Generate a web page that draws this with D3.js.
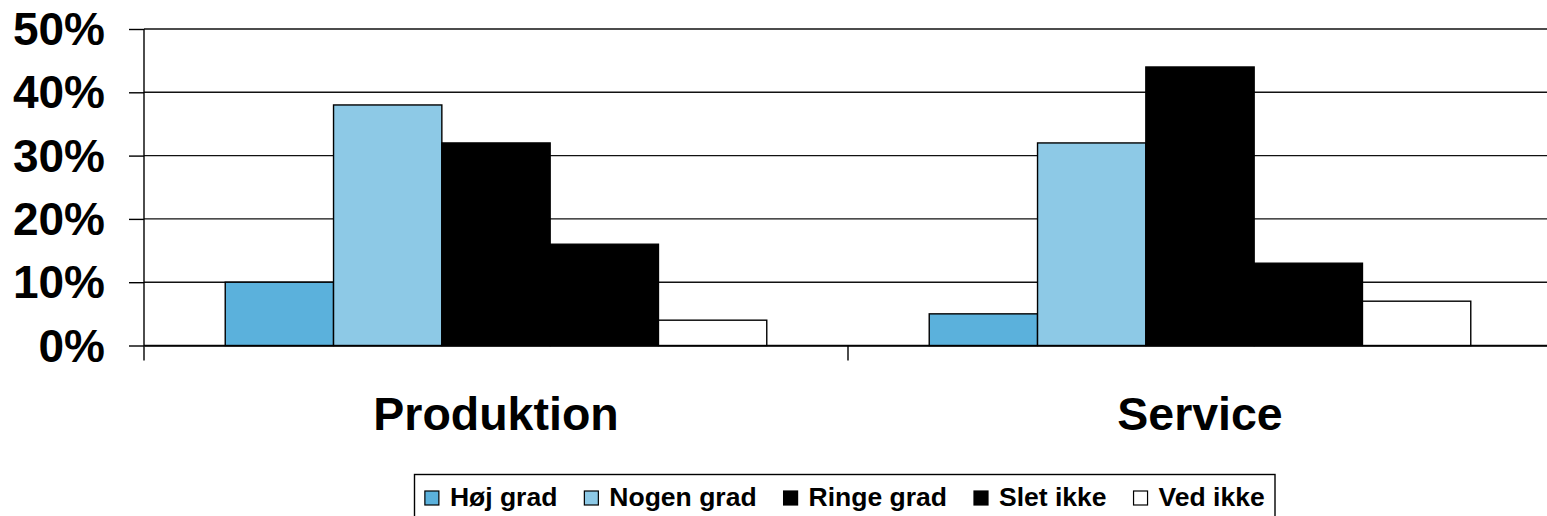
<!DOCTYPE html>
<html>
<head>
<meta charset="utf-8">
<script src="https://cdn.jsdelivr.net/npm/d3@7"></script>
<style>
html,body{margin:0;padding:0;background:#fff;overflow:hidden;}
text{font-family:"Liberation Sans",Arial,sans-serif;font-weight:bold;fill:#000;}
</style>
</head>
<body>
<svg id="chart" width="1547" height="516"></svg>
<script>
const categories = ["Produktion", "Service"];
const seriesNames = ["Høj grad", "Nogen grad", "Ringe grad", "Slet ikke", "Ved ikke"];
const seriesColors = ["#5BB1DC", "#8DC9E6", "#000000", "#000000", "#FFFFFF"];
const hojGrad = [10, 5];
const nogenGrad = [38, 32];
const ringeGrad = [32, 44];
const sletIkke = [16, 13];
const vedIkke = [4, 7];
const yTicks = [0, 10, 20, 30, 40, 50];

const seriesValues = [hojGrad, nogenGrad, ringeGrad, sletIkke, vedIkke];

const svg = d3.select("#chart");
const plotL = 144, plotR = 1552, plotT = 29, plotB = 345.5;

const x = d3.scaleBand().domain(categories).range([plotL, plotR]).padding(0);
const bw = x.bandwidth();
const off = bw * 0.75 / 6.5;
const xs = d3.scaleBand().domain(seriesNames).range([off, bw - off]).padding(0);
const y = d3.scaleLinear().domain([0, 50]).range([plotB, plotT]);

// gridlines
svg.append("g").selectAll("line").data(yTicks).join("line")
  .attr("x1", plotL).attr("x2", plotR)
  .attr("y1", d => y(d)).attr("y2", d => y(d))
  .attr("stroke", "#111").attr("stroke-width", 1.4);

// bars
seriesNames.forEach((s, si) => {
  svg.append("g").selectAll("rect").data(categories).join("rect")
    .attr("x", c => x(c) + xs(s))
    .attr("y", (c, ci) => y(seriesValues[si][ci]))
    .attr("width", xs.bandwidth())
    .attr("height", (c, ci) => y(0) - y(seriesValues[si][ci]))
    .attr("fill", seriesColors[si])
    .attr("stroke", "#000").attr("stroke-width", 1.4);
});

// y axis
const yAxis = d3.axisLeft(y).tickValues(yTicks).tickSize(15).tickPadding(24)
  .tickFormat(d => d + "%");
const ga = svg.append("g").attr("transform", `translate(${plotL},0)`).call(yAxis);
ga.select(".domain").remove();
ga.selectAll(".tick line").attr("stroke", "#000").attr("stroke-width", 1.4);
ga.selectAll(".tick text").attr("font-size", 46).attr("font-family", "Liberation Sans, Arial, sans-serif")
  .attr("font-weight", "bold").attr("fill", "#000").attr("dy", "0.34em");
svg.append("line").attr("x1", plotL).attr("x2", plotL).attr("y1", plotT).attr("y2", plotB + 15)
  .attr("stroke", "#000").attr("stroke-width", 1.4);

// x axis
const xAxis = d3.axisBottom(x).tickSize(0).tickFormat("");
const gx = svg.append("g").attr("transform", `translate(0,${plotB})`).call(xAxis);
gx.select(".domain").attr("stroke", "#000").attr("stroke-width", 1.4);
gx.selectAll(".tick").remove();
// category separators
const seps = categories.slice(1).map(c => x(c));
svg.append("g").selectAll("line").data(seps).join("line")
  .attr("x1", d => d).attr("x2", d => d).attr("y1", plotB).attr("y2", plotB + 15)
  .attr("stroke", "#000").attr("stroke-width", 1.4);
// category labels
svg.append("g").selectAll("text").data(categories).join("text")
  .attr("x", c => x(c) + bw / 2).attr("y", 430)
  .attr("text-anchor", "middle").attr("font-size", 46.5).text(c => c);

// legend
const lg = svg.append("g");
const items = lg.selectAll("g").data(seriesNames).join("g");
items.append("rect").attr("width", 14).attr("height", 14).attr("y", 491)
  .attr("fill", (d, i) => seriesColors[i]).attr("stroke", "#000").attr("stroke-width", 1.2);
items.append("text").attr("x", 25).attr("y", 506).attr("font-size", 26.5).text(d => d);
let cx = 0;
const positions = [];
items.each(function() {
  const w = d3.select(this).select("text").node().getComputedTextLength();
  positions.push(cx);
  cx += 25 + w + 27;
});
const totalW = cx - 27;
const boxL = 414.5, boxR = 1275;
const startX = (boxL + boxR) / 2 - totalW / 2;
items.attr("transform", (d, i) => `translate(${startX + positions[i]},0)`);
lg.insert("rect", ":first-child").attr("x", boxL).attr("y", 474.5)
  .attr("width", boxR - boxL).attr("height", 60)
  .attr("fill", "#fff").attr("stroke", "#000").attr("stroke-width", 1.4);
</script>
</body>
</html>
